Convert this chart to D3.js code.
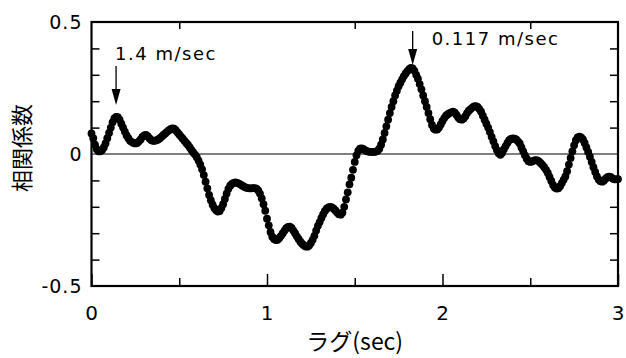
<!DOCTYPE html>
<html>
<head>
<meta charset="utf-8">
<script src="https://cdn.jsdelivr.net/npm/d3@7"></script>
<style>
  body { margin: 0; background: #fff; }
  svg { display: block; }
  text { font-family: "DejaVu Sans", sans-serif; fill: #000; }
</style>
</head>
<body>
<div id="chart"></div>
<script>
// lag axis: sampled every 0.01 sec from 0 to 3
const lagStart = 0
const lagStep = 0.01

// correlation values, one row per 0.1 sec
const corrValues = [
    0.078, 0.06, 0.035, 0.018, 0.01, 0.01, 0.015, 0.025, 0.04, 0.06,
    0.08, 0.10, 0.12, 0.135, 0.141, 0.14, 0.13, 0.115, 0.10, 0.085,
    0.07, 0.06, 0.05, 0.045, 0.042, 0.04, 0.042, 0.048, 0.055, 0.065,
    0.07, 0.072, 0.068, 0.06, 0.053, 0.05, 0.05, 0.052, 0.055, 0.06,
    0.066, 0.072, 0.078, 0.084, 0.089, 0.094, 0.097, 0.096, 0.09, 0.082,
    0.074, 0.066, 0.058, 0.05, 0.042, 0.034, 0.025, 0.015, 0.006, -0.002,
    -0.012, -0.025, -0.04, -0.058, -0.08, -0.105, -0.13, -0.155, -0.175, -0.192,
    -0.205, -0.213, -0.218, -0.216, -0.205, -0.19, -0.17, -0.15, -0.132, -0.12,
    -0.113, -0.109, -0.108, -0.109, -0.112, -0.116, -0.12, -0.124, -0.127, -0.129,
    -0.13, -0.13, -0.129, -0.129, -0.131, -0.138, -0.15, -0.168, -0.19, -0.215,
    -0.245, -0.27, -0.295, -0.313, -0.322, -0.326, -0.325, -0.318, -0.31, -0.3,
    -0.29, -0.281, -0.276, -0.275, -0.28, -0.29, -0.3, -0.312, -0.322, -0.332,
    -0.34, -0.346, -0.35, -0.351, -0.347, -0.337, -0.325, -0.31, -0.29, -0.272,
    -0.258, -0.242, -0.228, -0.216, -0.207, -0.202, -0.2, -0.202, -0.207, -0.214,
    -0.222, -0.228, -0.23, -0.222, -0.2, -0.172, -0.145, -0.115, -0.09, -0.06,
    -0.03, -0.005, 0.012, 0.02, 0.021, 0.018, 0.014, 0.01, 0.009, 0.008,
    0.008, 0.008, 0.009, 0.012, 0.02, 0.035, 0.055, 0.08, 0.105, 0.13,
    0.155, 0.178, 0.2, 0.222, 0.24, 0.257, 0.27, 0.283, 0.295, 0.305,
    0.314, 0.321, 0.326, 0.324, 0.315, 0.3, 0.285, 0.265, 0.245, 0.222,
    0.2, 0.178, 0.155, 0.132, 0.11, 0.097, 0.092, 0.093, 0.1, 0.112,
    0.125, 0.136, 0.145, 0.151, 0.155, 0.158, 0.16, 0.157, 0.148, 0.138,
    0.132, 0.13, 0.134, 0.143, 0.155, 0.164, 0.17, 0.176, 0.18, 0.181,
    0.178, 0.17, 0.16, 0.145, 0.13, 0.115, 0.1, 0.083, 0.065, 0.048,
    0.03, 0.015, 0.003, -0.003, 0.005, 0.018, 0.03, 0.042, 0.052, 0.057,
    0.059, 0.058, 0.055, 0.048, 0.04, 0.025, 0.01, -0.005, -0.018, -0.027,
    -0.03, -0.028, -0.025, -0.023, -0.024, -0.028, -0.035, -0.042, -0.05, -0.06,
    -0.072, -0.087, -0.102, -0.117, -0.127, -0.131, -0.13, -0.122, -0.11, -0.098,
    -0.085, -0.065, -0.04, -0.015, 0.01, 0.033, 0.052, 0.063, 0.066, 0.063,
    0.055, 0.042, 0.025, 0.008, -0.01, -0.03, -0.05, -0.068, -0.085, -0.097,
    -0.103, -0.105, -0.1, -0.093, -0.088, -0.086, -0.088, -0.093, -0.096, -0.096,
    -0.095
]

const xLabelTicks = [0, 1, 2, 3]
const xMinorTicks = [0.5, 1.5, 2.5]
const yLabelTicks = [-0.5, 0, 0.5]
const yTickLabels = ["-0.5", "0", "0.5"]
const yMinorTicks = [-0.4, -0.3, -0.2, -0.1, 0.1, 0.2, 0.3, 0.4]

// peak annotations
const peakLags = [0.14, 1.83]
const peakLabels = ["1.4 m/sec", "0.117 m/sec"]

const xTitle = "ラグ(sec)"
const yTitle = "相関係数"

function drawChart() {
    const data = corrValues.map((v, i) => ({ lag: lagStart + i * lagStep, r: v }))
    const xAccessor = d => d.lag
    const yAccessor = d => d.r

    const dimensions = {
        width: 626,
        height: 358,
        margin: { top: 22, right: 8, bottom: 72, left: 91.5 },
    }
    dimensions.boundedWidth = dimensions.width - dimensions.margin.left - dimensions.margin.right
    dimensions.boundedHeight = dimensions.height - dimensions.margin.top - dimensions.margin.bottom

    const wrapper = d3.select("#chart")
        .append("svg")
        .attr("width", dimensions.width)
        .attr("height", dimensions.height)

    const bounds = wrapper.append("g")
        .attr("transform", `translate(${dimensions.margin.left},${dimensions.margin.top})`)

    const xScale = d3.scaleLinear()
        .domain([0, 3])
        .range([0, dimensions.boundedWidth])
    const yScale = d3.scaleLinear()
        .domain([-0.5, 0.5])
        .range([dimensions.boundedHeight, 0])

    // zero line
    bounds.append("line")
        .attr("x1", 0)
        .attr("x2", dimensions.boundedWidth)
        .attr("y1", yScale(0))
        .attr("y2", yScale(0))
        .attr("stroke", "#000")
        .attr("stroke-width", 1.2)

    // axes (ticks point inward)
    const tickStyle = g => {
        g.select(".domain").remove()
        g.selectAll(".tick line").attr("stroke", "#000").attr("stroke-width", 1.5)
        g.selectAll(".tick text")
            .style("font-size", "19px")
            .style("letter-spacing", "1px")
    }

    bounds.append("g")
        .attr("transform", `translate(0,${dimensions.boundedHeight})`)
        .call(d3.axisBottom(xScale).tickValues(xLabelTicks).tickSize(-12).tickPadding(20).tickFormat(d3.format("d")))
        .call(tickStyle)
        .selectAll(".tick text").style("font-size", "20px")

    bounds.append("g")
        .attr("transform", `translate(0,${dimensions.boundedHeight})`)
        .call(d3.axisBottom(xScale).tickValues(xMinorTicks).tickSize(-8).tickFormat(""))
        .call(tickStyle)

    bounds.append("g")
        .call(d3.axisTop(xScale).tickValues(xMinorTicks).tickSize(-7).tickFormat(""))
        .call(tickStyle)

    bounds.append("g")
        .call(d3.axisLeft(yScale).tickValues(yLabelTicks).tickSize(0).tickPadding(9)
            .tickFormat((d, i) => yTickLabels[i]))
        .call(tickStyle)

    bounds.append("g")
        .call(d3.axisLeft(yScale).tickValues(yMinorTicks).tickSize(-8).tickFormat(""))
        .call(tickStyle)

    bounds.append("g")
        .attr("transform", `translate(${dimensions.boundedWidth},0)`)
        .call(d3.axisRight(yScale).tickValues(yMinorTicks).tickSize(-8).tickFormat(""))
        .call(tickStyle)

    // frame
    bounds.append("rect")
        .attr("width", dimensions.boundedWidth)
        .attr("height", dimensions.boundedHeight)
        .attr("fill", "none")
        .attr("stroke", "#000")
        .attr("stroke-width", 2.2)

    // dots
    bounds.selectAll("circle")
        .data(data)
        .join("circle")
        .attr("cx", d => xScale(xAccessor(d)))
        .attr("cy", d => yScale(yAccessor(d)))
        .attr("r", 3.9)
        .attr("fill", "#000")

    // peak arrows
    const arrowTop = [0.333, 0.466]
    const arrowTip = [0.186, 0.337]
    const labelY = [0.356, 0.413]
    const labelDx = [-1, 19]

    peakLags.forEach((lag, i) => {
        const x = xScale(lag)
        const y0 = yScale(arrowTop[i])
        const y1 = yScale(arrowTip[i])
        bounds.append("line")
            .attr("x1", x).attr("x2", x)
            .attr("y1", y0).attr("y2", y1 - 10)
            .attr("stroke", "#000")
            .attr("stroke-width", 1.3)
        bounds.append("path")
            .attr("d", `M${x - 4.5},${y1 - 16} L${x + 4.5},${y1 - 16} L${x},${y1} Z`)
            .attr("fill", "#000")
        bounds.append("text")
            .attr("x", x + labelDx[i])
            .attr("y", yScale(labelY[i]))
            .style("font-size", "18px")
            .style("letter-spacing", "1.5px")
            .text(peakLabels[i])
    })

    // axis titles
    wrapper.append("text")
        .attr("x", dimensions.margin.left + dimensions.boundedWidth / 2)
        .attr("y", 350)
        .attr("text-anchor", "middle")
        .style("font-family", "'Noto Sans CJK JP', sans-serif")
        .style("font-size", "23px")
        .text(xTitle)

    wrapper.append("text")
        .attr("transform", `translate(30, ${dimensions.margin.top + dimensions.boundedHeight / 2 - 6}) rotate(-90)`)
        .attr("text-anchor", "middle")
        .style("font-family", "'Noto Sans CJK JP', sans-serif")
        .style("font-size", "22px")
        .text(yTitle)
}

drawChart()
</script>
</body>
</html>
